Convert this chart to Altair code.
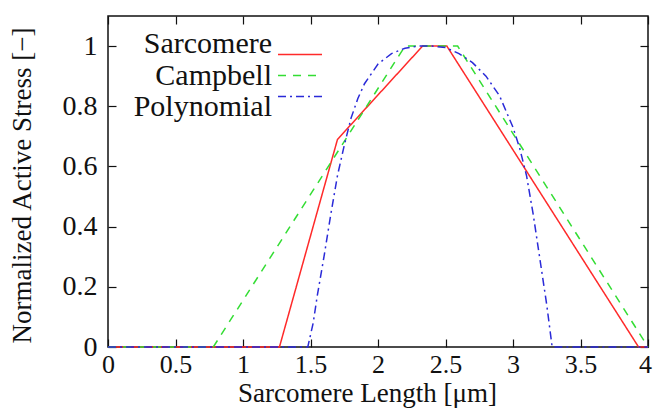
import altair as alt
import pandas as pd

series_names = ["Sarcomere", "Campbell", "Polynomial"]
series_colors = ["#ff2a2a", "#33dd33", "#2a2ad8"]
series_dashes = [[1, 0], [8, 7], [8, 4, 2, 4]]

sarc_x = [0.0, 1.27, 1.70, 2.33, 2.51, 3.93, 4.0]
sarc_y = [0.0, 0.0, 0.69, 1.0, 1.0, 0.0, 0.0]

camp_x = [0.0, 0.78, 2.20, 2.59, 4.0]
camp_y = [0.0, 0.0, 1.0, 1.0, 0.0]

poly_x = [0.0, 1.48, 1.52, 1.55, 1.60, 1.65, 1.70, 1.75, 1.80, 1.85, 1.90, 2.00,
          2.10, 2.20, 2.30, 2.40, 2.50, 2.60, 2.70, 2.80, 2.90, 3.00, 3.05, 3.10,
          3.15, 3.20, 3.25, 3.29, 4.0]
poly_y = [0.0, 0.0, 0.08, 0.17, 0.30, 0.44, 0.57, 0.67, 0.76, 0.825, 0.875, 0.94,
          0.975, 0.993, 1.0, 1.0, 0.995, 0.975, 0.945, 0.90, 0.835, 0.73, 0.66, 0.57,
          0.44, 0.29, 0.14, 0.0, 0.0]

x_ticks = [0, 0.5, 1, 1.5, 2, 2.5, 3, 3.5, 4]
y_ticks = [0, 0.2, 0.4, 0.6, 0.8, 1]

rows = []
for name, xs, ys in [("Sarcomere", sarc_x, sarc_y),
                     ("Campbell", camp_x, camp_y),
                     ("Polynomial", poly_x, poly_y)]:
    for i, (xv, yv) in enumerate(zip(xs, ys)):
        rows.append({"series": name, "x": xv, "y": yv, "order": i})
df = pd.DataFrame(rows)
legend_df = pd.DataFrame({"series": series_names})

W, H = 540, 331
FONT = "Liberation Serif"
INK = "#111111"

xscale = alt.Scale(domain=[0, 4], nice=False, zero=False)
yscale = alt.Scale(domain=[0, 1.1], nice=False, zero=False)
color_scale = alt.Scale(domain=series_names, range=series_colors)
dash_scale = alt.Scale(domain=series_names, range=series_dashes)
legend_y = alt.Scale(domain=series_names, range=[28, 91], padding=0)

lines = alt.Chart(df).mark_line(strokeWidth=1.5).encode(
    x=alt.X("x:Q", scale=xscale, axis=alt.Axis(
        orient="bottom", values=x_ticks, ticks=False, domain=False, grid=False,
        labelFont=FONT, labelFontSize=26, labelColor=INK, labelPadding=4,
        labelFlush=False, labelOverlap=False, format="~g",
        labelOffset={"condition": {"test": "datum.value == 4", "value": -3}, "value": 0},
        title="Sarcomere Length [μm]", titleFont=FONT, titleFontSize=27,
        titleFontWeight="normal", titleColor=INK, titleX=259, titleY=54,
        titleBaseline="alphabetic")),
    y=alt.Y("y:Q", scale=yscale, axis=alt.Axis(
        orient="left", values=y_ticks, ticks=False, domain=False, grid=False,
        labelFont=FONT, labelFontSize=28, labelColor=INK, labelPadding=11,
        labelFlush=False, labelOverlap=False, format="~g",
        title="Normalized Active Stress [−]", titleFont=FONT, titleFontSize=27,
        titleFontWeight="normal", titleColor=INK, titleX=-72, titleY=169)),
    color=alt.Color("series:N", scale=color_scale, legend=None),
    strokeDash=alt.StrokeDash("series:N", scale=dash_scale, legend=None),
    order="order:Q",
)

tick_axis = dict(ticks=True, tickSize=8, tickWidth=1.2, tickColor=INK,
                 labels=False, domain=False, grid=False, title=None)

ticks_a = alt.Chart(df).mark_point(opacity=0).encode(
    x=alt.X("x:Q", scale=xscale, axis=alt.Axis(orient="top", offset=-H, values=x_ticks, **tick_axis)),
    y=alt.Y("y:Q", scale=yscale, axis=alt.Axis(orient="right", offset=-W, values=y_ticks, **tick_axis)),
)
ticks_b = alt.Chart(df).mark_point(opacity=0).encode(
    x=alt.X("x:Q", scale=xscale, axis=alt.Axis(orient="bottom", offset=-H, values=x_ticks, **tick_axis)),
    y=alt.Y("y:Q", scale=yscale, axis=alt.Axis(orient="left", offset=-W, values=y_ticks, **tick_axis)),
)

legend_text = alt.Chart(legend_df).mark_text(
    align="right", baseline="middle", font=FONT, fontSize=30, color=INK
).encode(
    x=alt.value(164),
    y=alt.Y("series:N", scale=legend_y, axis=None),
    text="series:N",
)
legend_lines = alt.Chart(legend_df).mark_rule(strokeWidth=1.5).encode(
    x=alt.value(170), x2=alt.value(214),
    y=alt.Y("series:N", scale=legend_y, axis=None),
    color=alt.Color("series:N", scale=color_scale, legend=None),
    strokeDash=alt.StrokeDash("series:N", scale=dash_scale, legend=None),
)

chart = alt.layer(lines, ticks_a, ticks_b, legend_text, legend_lines).resolve_axis(
    x="independent", y="independent"
).resolve_scale(y="independent").properties(
    width=W, height=H,
    padding={"left": 100, "top": 8, "right": 5, "bottom": 61},
    autosize=alt.AutoSizeParams(type="none"),
).configure_view(stroke=INK, strokeWidth=1.5)

chart.save("out.html", embed_options={"renderer": "svg", "actions": False})
